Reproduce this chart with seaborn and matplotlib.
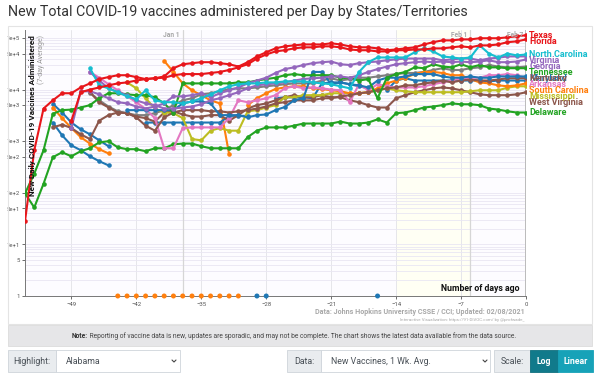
import numpy as np
import pandas as pd
import matplotlib.pyplot as plt
import seaborn as sns
from matplotlib.patches import Rectangle
from matplotlib.ticker import LogLocator, NullFormatter
import matplotlib.transforms as mtransforms

# New vaccines per day (7-day average); day 0 = Feb 7. A value of 0 = no doses reported.
texas_start = -54
texas = [28, 670, 4300, 6200, 8500, 8500, 11000, 13200, 16000, 17500, 19000, 19000, 17500, 16000,
         16600, 18000, 26000, 31000, 32500, 34000, 34000, 32500, 31000, 28000, 34000, 44000, 53000,
         63000, 69000, 72000, 75000, 75000, 75000, 79000, 75000, 69000, 66000, 66000, 63000, 58000,
         60000, 63000, 66000, 75000, 83000, 90000, 90000, 94000, 94000, 99000, 99000, 99000, 103000,
         108000, 113000]
florida_start = -49
florida = [2500, 8900, 10000, 11000, 12100, 13200, 13800, 15000, 16000, 16600, 17000, 19000, 20000,
           20000, 20000, 21000, 22000, 24000, 27000, 31000, 40000, 48000, 55000, 58000, 63000, 66000,
           66000, 69000, 69000, 66000, 60000, 58000, 58000, 55000, 55000, 58000, 58000, 60000, 60000,
           63000, 63000, 66000, 69000, 66000, 72000, 72000, 75000, 83000, 86000, 94000]
north_carolina_start = -47
north_carolina = [26000, 12100, 10600, 8900, 7400, 6500, 9700, 6200, 5700, 5700, 5400, 5900, 6800,
                  8100, 9700, 11600, 12700, 13200, 13200, 13800, 13800, 14400, 14400, 14400, 13800,
                  13200, 12700, 11600, 10600, 22000, 34000, 42000, 42000, 42000, 42000, 53000, 63000,
                  55000, 44000, 42000, 40000, 42000, 72000, 50000, 42000, 50000, 46000, 48000]
virginia_start = -49
virginia = [1800, 9300, 9300, 8100, 6800, 5700, 5400, 4700, 4300, 4700, 5400, 7400, 7400, 7800, 8500,
            7100, 8500, 9700, 11000, 13200, 15000, 17000, 21000, 25000, 27000, 30000, 32500, 34000,
            35000, 31000, 30000, 32500, 34000, 35000, 37000, 38500, 40000, 40000, 40000, 40000, 37000,
            38500, 40000, 40000, 37000, 40000, 41500, 44000, 44000, 44000]
georgia_start = -47
georgia = [22000, 15000, 10600, 8900, 7800, 6200, 5400, 5000, 4300, 4300, 4500, 4700, 5200, 6200, 6800,
           7800, 8900, 10600, 12100, 12700, 13200, 13800, 15000, 16000, 16600, 17000, 18000, 18000,
           17000, 19000, 22000, 25000, 28000, 31000, 32500, 34000, 35000, 34000, 35000, 34000, 35000,
           34000, 35000, 37000, 34000, 34000, 35000, 38500]
tennessee_start = -54
tennessee = [97, 235, 670, 3400, 4000, 4100, 4500, 5000, 6800, 8500, 8500, 8100, 7800, 7800, 7100,
             5400, 3600, 13200, 13200, 13200, 13200, 13200, 13200, 13800, 13800, 15000, 16000, 17000,
             19000, 20000, 19000, 19000, 19000, 19000, 17000, 16600, 15000, 16000, 6800, 17000, 20000,
             22000, 27000, 26000, 31000, 28000, 27000, 31000, 27000, 30000, 27000, 27000, 26000, 26000,
             26000]
maryland_start = -43
maryland = [4000, 4000, 4000, 4000, 4000, 4000, 5400, 5900, 5900, 5400, 3200, 3200, 3200, 2900, 3200,
            3300, 4000, 4600, 6200, 6800, 22000, 22000, 12700, 13800, 12700, 12100, 11000, 15000, 17000,
            17000, 18000, 20000, 20000, 20000, 18000, 17000, 17000, 18000, 17000, 17000, 18000, 18000,
            18000, 18000]
kentucky_start = -51
kentucky = [1850, 2100, 1800, 1360, 1100, 2500, 3200, 3600, 3500, 2900, 2000, 1600, 2900, 3600, 4000,
            4000, 4000, 3800, 3800, 3600, 3800, 4000, 4300, 4700, 5400, 5700, 6200, 6200, 6200, 6800,
            6800, 7400, 7800, 8500, 8900, 9700, 10600, 11000, 12100, 12100, 13200, 13800, 15000, 13800,
            15000, 15700, 15000, 15000, 15700, 16600, 16600, 16600]
arkansas_start = -47
arkansas = [22000, 17000, 12700, 9700, 7400, 5700, 4200, 2800, 730, 730, 1800, 1850, 1850, 1850, 1850,
            2800, 6200, 5700, 6200, 6800, 7800, 10600, 11600, 10600, 11000, 10600, 10000, 9700, 5700,
            12700, 9700, 12700, 11600, 11000, 11000, 11000, 11600, 12700, 13800, 15000, 16600, 17000,
            17000, 19000, 19000, 20000, 19000, 16600]
south_carolina_start = -44
south_carolina = [0, 0, 0, 0, 0, 0, 0, 0, 0, 0, 0, 0, 0, 0, 5000, 6800, 8500, 10300, 11000, 11600,
                  11600, 10600, 10300, 9700, 9300, 8500, 8500, 8900, 10600, 13200, 15000, 17000, 20000,
                  22000, 22000, 21000, 19000, 19000, 16000, 13800, 13200, 12100, 11600, 12100, 13200]
mississippi_start = -43
mississippi = [13800, 10600, 6800, 4300, 3600, 3500, 2800, 1100, 1040, 1600, 1800, 1600, 1600, 3800,
               4000, 4500, 5000, 7100, 7100, 7800, 7800, 7800, 8500, 8500, 8500, 8500, 8900, 9700,
               10600, 9700, 9300, 8900, 8900, 8900, 8900, 8900, 8900, 9300, 9700, 9700, 9700, 10900,
               11600, 11600]
west_virginia_start = -47
west_virginia = [8900, 5700, 4500, 3600, 3500, 3000, 2800, 2400, 3600, 3800, 3300, 3000, 3000, 3200,
                 3200, 2500, 3200, 4300, 5000, 5400, 6200, 7100, 7800, 7100, 7100, 7800, 7100, 7100,
                 6200, 5700, 5000, 4500, 4500, 6800, 7800, 8900, 9700, 10600, 11000, 10600, 9700, 8900,
                 8100, 7800, 7800, 7800, 8100, 8900]
delaware_start = -54
delaware = [97, 52, 150, 490, 610, 510, 640, 730, 950, 1000, 760, 700, 700, 640, 730, 730, 870, 900,
            900, 800, 730, 730, 730, 730, 1200, 1600, 1850, 1850, 1850, 2000, 2200, 2200, 2200, 2200,
            2400, 2200, 2200, 2300, 2650, 2300, 3500, 3600, 4000, 4500, 4700, 5000, 5400, 5200, 5200,
            5000, 4300, 4100, 3800, 3600, 3600]
# states without a label at the right edge
gray_state_start = -47
gray_state = [8700, 6200, 4700, 3800, 3500, 3200, 3200, 3500, 4000, 5000, 6200, 6800, 8100, 8500, 9300,
              10200, 10600, 10600, 11000, 11600, 12100, 12700, 13200, 13200, 13200, 15000, 16600,
              15000, 16000, 17000, 17000, 18000, 19000, 20000, 21000, 21000, 22000, 24000, 26000,
              24000, 24000, 26000, 27000, 30000, 28000, 27000, 27000, 28000]
blue_state_start = -41
blue_state = [2300, 2300, 2300, 2300, 2300, 2300, 2300, 2300, 2300, 3100, 3100, 3100, 0, 0, 6800, 7100,
              7100, 7100, 6800, 13200, 13800, 13800, 12700, 11600, 10600, 0, 9700, 15000, 16600, 15000,
              15000, 15000, 15000, 15000, 15000, 15000, 15000, 14400, 15000, 15000, 15000, 15000]
orange_spike_start = -39
orange_spike = [36000, 22000, 13200, 9700, 7800, 6200, 5400, 560]
orange_early_start = -51
orange_early = [4500, 2800, 1800, 1200, 900, 700, 580]
blue_early_start = -51
blue_early = [5300, 3600, 2300, 1700, 1360, 1040, 800]
blue_low_start = -51
blue_low = [2300, 1300, 830, 670, 510, 410, 340]

series = {
    'Blue A': (blue_early_start, blue_early), 'Blue B': (blue_low_start, blue_low),
    'Orange A': (orange_early_start, orange_early), 'Orange B': (orange_spike_start, orange_spike),
    'Gray': (gray_state_start, gray_state), 'Blue C': (blue_state_start, blue_state),
    'Delaware': (delaware_start, delaware), 'West Virginia': (west_virginia_start, west_virginia),
    'Mississippi': (mississippi_start, mississippi), 'South Carolina': (south_carolina_start, south_carolina),
    'Arkansas': (arkansas_start, arkansas), 'Kentucky': (kentucky_start, kentucky),
    'Maryland': (maryland_start, maryland), 'Tennessee': (tennessee_start, tennessee),
    'Georgia': (georgia_start, georgia), 'Virginia': (virginia_start, virginia),
    'North Carolina': (north_carolina_start, north_carolina), 'Florida': (florida_start, florida),
    'Texas': (texas_start, texas),
}
labeled = ['Texas', 'Florida', 'North Carolina', 'Virginia', 'Georgia', 'Tennessee', 'Maryland',
           'Kentucky', 'Arkansas', 'South Carolina', 'Mississippi', 'West Virginia', 'Delaware']

RED, BLUE, ORANGE, GREEN = '#e8161b', '#1f77b4', '#ff7f0e', '#22a322'
PURPLE, BROWN, PINK, GRAY, OLIVE, CYAN = '#9467bd', '#8c564b', '#e377c2', '#7f7f7f', '#bcbd22', '#17becf'
colors = {
    'Texas': RED, 'Florida': RED, 'North Carolina': CYAN, 'Virginia': PURPLE, 'Georgia': PURPLE,
    'Tennessee': GREEN, 'Maryland': BLUE, 'Kentucky': BROWN, 'Arkansas': PINK,
    'South Carolina': ORANGE, 'Mississippi': OLIVE, 'West Virginia': BROWN, 'Delaware': GREEN,
    'Gray': GRAY, 'Blue A': BLUE, 'Blue B': BLUE, 'Blue C': BLUE, 'Orange A': ORANGE, 'Orange B': ORANGE,
}

# long table; a zero breaks the line and is drawn as a dot on the axis
rows, zero_rows = [], []
for name, (start, vals) in series.items():
    seg = 0
    for i, v in enumerate(vals):
        if v == 0:
            zero_rows.append((name, start + i, 1.0))
            seg += 1
        else:
            rows.append((name, f'{name}-{seg}', start + i, v))
df = pd.DataFrame(rows, columns=['state', 'seg', 'day', 'value'])
zeros = pd.DataFrame(zero_rows, columns=['state', 'day', 'value'])

sns.set_theme(style='white')
plt.rcParams['font.family'] = ['Roboto', 'DejaVu Sans']

W, H = 600, 374
fig = plt.figure(figsize=(6, 3.74), dpi=100)

def fx(px):
    return px / W

def fy(py):
    return 1 - py / H

def box(x0, x1, y0, y1, fc, ec='#ced4da', lw=0.6):
    fig.patches.append(Rectangle((fx(x0), fy(y1)), fx(x1) - fx(x0), fy(y0) - fy(y1),
                                 transform=fig.transFigure, facecolor=fc, edgecolor=ec, lw=lw))

# chart frame
box(8, 592, 26, 324, 'none', ec='#e4e4e4', lw=0.8)

ax = fig.add_axes([fx(25), fy(296), fx(526) - fx(25), fy(30) - fy(296)])
ax.set_facecolor('#fdfcff')
ax.set_yscale('log')
ax.axvspan(-14, -6, color='#fffff4', zorder=0, lw=0)

sns.lineplot(data=df, x='day', y='value', hue='state', units='seg', estimator=None,
             palette=colors, marker='o', markersize=3.3, markeredgewidth=0, linewidth=1.5,
             legend=False, ax=ax, zorder=3)
sns.scatterplot(data=zeros, x='day', y='value', hue='state', palette=colors, s=13, linewidth=0,
                legend=False, ax=ax, clip_on=False, zorder=4)

ax.set_xlim(-54, 0)
ax.set_ylim(1, 1.43e5)
ax.set_xlabel('')
ax.set_ylabel('')

yt = [1, 5, 10, 50, 100, 500, 1e3, 5e3, 1e4, 5e4, 1e5]
ax.set_yticks(yt)
ax.set_yticklabels(['1', '5', '1e+1', '5e+1', '1e+2', '5e+2', '1e+3', '5e+3', '1e+4', '5e+4', '1e+5'])
ax.yaxis.set_minor_locator(LogLocator(base=10, subs=np.arange(2, 10)))
ax.yaxis.set_minor_formatter(NullFormatter())
ax.set_xticks([-49, -42, -35, -28, -21, -14, -7, 0])
ax.tick_params(axis='both', which='major', labelsize=4.3, length=2.5, width=0.6, pad=1.5,
               colors='#555555', left=True, bottom=True)
ax.tick_params(axis='y', which='minor', length=0)
ax.grid(which='both', axis='y', color='#e9e6f3', lw=0.6, zorder=0)
ax.grid(which='major', axis='x', color='#e6e6ea', lw=0.7, zorder=0)
for s in ['top', 'right']:
    ax.spines[s].set_visible(False)
for s in ['left', 'bottom']:
    ax.spines[s].set_color('#777777')
    ax.spines[s].set_linewidth(0.7)

# date markers
trans = mtransforms.blended_transform_factory(ax.transData, ax.transAxes)
for d, lab in [(-37, 'Jan 1'), (-6, 'Feb 1'), (0, 'Feb 7')]:
    ax.axvline(d, color='#bbbbbb' if d == 0 else '#d6d6d6', lw=1.4 if d == 0 else 0.9, zorder=1)
    ax.text(d - 0.3, 0.995, lab, transform=trans, ha='right', va='top', fontsize=4.8,
            color='#a8a8a8', fontweight='bold')

# state labels at the right edge, pushed down so they do not collide
gap = 6 / 51.6
ends = {n: np.log10(series[n][1][-1]) for n in labeled}
slots, prev = {}, None
for n in sorted([n for n in labeled if n != 'Kentucky'], key=lambda n: -ends[n]):
    y = ends[n] if prev is None else min(ends[n], prev - gap)
    slots[n] = y
    prev = y
slots['Kentucky'] = slots['Maryland']
for n in labeled:
    ax.text(0.35, 10 ** slots[n], n, color=colors[n], fontsize=6.5, fontweight='bold',
            va='center', ha='left', clip_on=False, zorder=6)

ax.text(0.007, 0.982, 'New Daily COVID-19 Vaccines Administered', transform=ax.transAxes,
        rotation=90, ha='left', va='top', fontsize=5.9, fontweight='bold', color='#111111')
ax.text(0.025, 0.982, '(7-day Average)', transform=ax.transAxes, rotation=90, ha='left',
        va='top', fontsize=5, color='#9a9a9a')
ax.text(0.988, 0.027, 'Number of days ago', transform=ax.transAxes, ha='right', va='center',
        fontsize=6.3, fontweight='bold', color='#111111')

fig.text(fx(8), fy(12), 'New Total COVID-19 vaccines administered per Day by States/Territories',
         fontsize=10.3, color='#333333', va='center', ha='left')
fig.text(fx(525), fy(312), 'Data: Johns Hopkins University CSSE / CCI; Updated: 02/08/2021',
         fontsize=5.1, color='#a8a8a8', ha='right', va='center', fontweight='bold')
fig.text(fx(525), fy(320.5), 'Interactive Visualization: https://91-DIVOC.com/ by @profwade_',
         fontsize=3.2, color='#a8a8a8', ha='right', va='center')

# note band
box(8, 592, 325, 346, '#e6e6e8', ec='#dcdcdc')
fig.text(fx(88), fy(336), 'Note:', fontsize=4.8, fontweight='bold', color='#333333',
         ha='right', va='center')
fig.text(fx(88.5), fy(336), ' Reporting of vaccine data is new, updates are sporadic, and may not be '
         'complete. The chart shows the latest data available from the data source.',
         fontsize=4.8, color='#444444', ha='left', va='center')

# controls row
def chevron(xc, yc):
    fig.lines.append(plt.Line2D([fx(xc - 2), fx(xc), fx(xc + 2)], [fy(yc - 1), fy(yc + 1), fy(yc - 1)],
                                transform=fig.transFigure, color='#444444', lw=0.8))

box(8, 56, 350, 372, '#e9ecef')
fig.text(fx(32), fy(361), 'Highlight:', fontsize=6.3, color='#495057', ha='center', va='center')
box(56, 180, 350, 372, 'white')
fig.text(fx(66), fy(361), 'Alabama', fontsize=6.3, color='#495057', ha='left', va='center')
chevron(174, 361)
box(287, 321, 350, 372, '#e9ecef')
fig.text(fx(304), fy(361), 'Data:', fontsize=6.3, color='#495057', ha='center', va='center')
box(321, 490, 350, 372, 'white')
fig.text(fx(331), fy(361), 'New Vaccines, 1 Wk. Avg.', fontsize=6.3, color='#495057',
         ha='left', va='center')
chevron(485, 361)
box(494, 530, 350, 372, '#e9ecef')
fig.text(fx(512), fy(361), 'Scale:', fontsize=6.3, color='#495057', ha='center', va='center')
box(530, 558, 350, 372, '#117a8b', ec='#10707f')
fig.text(fx(544), fy(361), 'Log', fontsize=6.3, color='white', fontweight='bold',
         ha='center', va='center')
box(558, 593, 350, 372, '#17a2b8', ec='#17a2b8')
fig.text(fx(575.5), fy(361), 'Linear', fontsize=6.3, color='white', fontweight='bold',
         ha='center', va='center')

fig.savefig('out.png', dpi=100, facecolor='white')
